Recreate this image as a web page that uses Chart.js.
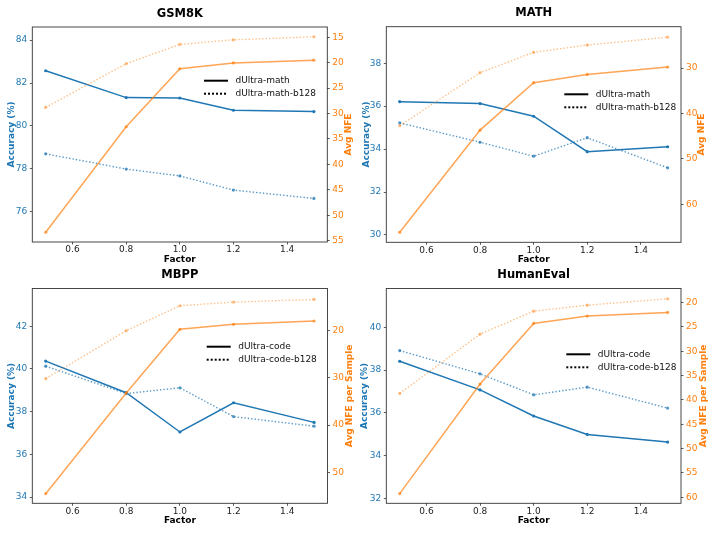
<!DOCTYPE html>
<html>
<head>
<meta charset="utf-8">
<script src="https://cdn.jsdelivr.net/npm/chart.js@4.4.1/dist/chart.umd.min.js"></script>
<style>
  body { margin: 0; background: #fff; }
  #wrap { position: relative; width: 714px; height: 535px; }
  #wrap canvas { position: absolute; left: 0; top: 0; }
</style>
</head>
<body>
<div id="wrap">
  <canvas id="gsm" width="714" height="535"></canvas>
  <canvas id="math" width="714" height="535"></canvas>
  <canvas id="mbpp" width="714" height="535"></canvas>
  <canvas id="humaneval" width="714" height="535"></canvas>
</div>
<script>
// x values and ticks (shared)
const factors = [0.5, 0.8, 1.0, 1.2, 1.5];
const factorTicks = [0.6, 0.8, 1.0, 1.2, 1.4];

const mathNames = ["dUltra-math", "dUltra-math-b128"];
const codeNames = ["dUltra-code", "dUltra-code-b128"];

// GSM8K
const gsmAcc = [82.57, 81.32, 81.30, 80.73, 80.67];
const gsmAccB128 = [78.70, 77.99, 77.67, 77.01, 76.62];
const gsmNfe = [53.35, 32.6, 21.2, 20.05, 19.5];
const gsmNfeB128 = [28.8, 20.2, 16.4, 15.5, 14.9];
const gsmAccTicks = [76, 78, 80, 82, 84];
const gsmNfeTicks = [15, 20, 25, 30, 35, 40, 45, 50, 55];

// MATH
const mathAcc = [36.21, 36.12, 35.53, 33.88, 34.11];
const mathAccB128 = [35.22, 34.32, 33.67, 34.53, 33.13];
const mathNfe = [66.16, 43.67, 33.23, 31.4, 29.78];
const mathNfeB128 = [42.7, 31.03, 26.55, 24.94, 23.2];
const mathAccTicks = [30, 32, 34, 36, 38];
const mathNfeTicks = [30, 40, 50, 60];

// MBPP
const mbppAcc = [40.37, 38.89, 37.05, 38.42, 37.50];
const mbppAccB128 = [40.13, 38.85, 39.12, 37.77, 37.32];
const mbppNfe = [54.49, 33.23, 19.79, 18.74, 18.03];
const mbppNfeB128 = [30.21, 20.07, 14.81, 14.04, 13.48];
const mbppAccTicks = [34, 36, 38, 40, 42];
const mbppNfeTicks = [20, 30, 40, 50];

// HumanEval
const heAcc = [38.41, 37.07, 35.85, 34.99, 34.63];
const heAccB128 = [38.91, 37.82, 36.84, 37.20, 36.22];
const heNfe = [59.25, 36.75, 24.31, 22.80, 22.05];
const heNfeB128 = [38.67, 26.50, 21.78, 20.55, 19.25];
const heAccTicks = [32, 34, 36, 38, 40];
const heNfeTicks = [20, 25, 30, 35, 40, 45, 50, 55, 60];

const BLUE = "#1f77b4";
const BLUE_LIGHT = "rgba(31,119,180,0.75)";
const ORANGE = "#ff7f0e";
const ORANGE_SOLID = "rgba(255,127,14,0.7)";
const ORANGE_LIGHT = "rgba(255,127,14,0.5)";

Chart.defaults.font.family = "'DejaVu Sans', sans-serif";

const panels = [
  {
    id: "gsm", title: "GSM8K", names: mathNames,
    acc: gsmAcc, accB: gsmAccB128, nfe: gsmNfe, nfeB: gsmNfeB128,
    accTicks: gsmAccTicks, nfeTicks: gsmNfeTicks,
    accRange: [74.59, 84.61], nfeRange: [12.98, 55.27], nfeLabel: "Avg NFE",
    area: { l: 32.3, t: 27, r: 327.3, b: 242 },
    accTitleX: 11.7, nfeTitleX: 348.3, legend: { x: 204, y: 80.7 },
  },
  {
    id: "math", title: "MATH", names: mathNames,
    acc: mathAcc, accB: mathAccB128, nfe: mathNfe, nfeB: mathNfeB128,
    accTicks: mathAccTicks, nfeTicks: mathNfeTicks,
    accRange: [29.66, 39.7], nfeRange: [20.9, 68.36], nfeLabel: "Avg NFE",
    area: { l: 386.3, t: 26.7, r: 681, b: 242.3 },
    accTitleX: 367, nfeTitleX: 702, legend: { x: 564.3, y: 94.3 },
  },
  {
    id: "mbpp", title: "MBPP", names: codeNames,
    acc: mbppAcc, accB: mbppAccB128, nfe: mbppNfe, nfeB: mbppNfeB128,
    accTicks: mbppAccTicks, nfeTicks: mbppNfeTicks,
    accRange: [33.71, 43.77], nfeRange: [11.17, 56.52], nfeLabel: "Avg NFE per Sample",
    area: { l: 32.3, t: 288.5, r: 327.5, b: 503.3 },
    accTitleX: 11.7, nfeTitleX: 349.3, legend: { x: 206.7, y: 346.7 },
  },
  {
    id: "humaneval", title: "HumanEval", names: codeNames,
    acc: heAcc, accB: heAccB128, nfe: heNfe, nfeB: heNfeB128,
    accTicks: heAccTicks, nfeTicks: heNfeTicks,
    accRange: [31.77, 41.81], nfeRange: [17.13, 61.23], nfeLabel: "Avg NFE per Sample",
    area: { l: 386.3, t: 288.5, r: 681, b: 503.3 },
    accTitleX: 365, nfeTitleX: 703.7, legend: { x: 566.3, y: 354.3 },
  },
];

const RIGHT_W = 30;
const X_H = 23;

// frame, right-axis title and in-plot legend
const decor = {
  id: "decor",
  afterDraw(chart, args, opts) {
    const { ctx, chartArea: a } = chart;
    const p = opts.panel;
    ctx.save();
    ctx.strokeStyle = "#333";
    ctx.lineWidth = 0.9;
    ctx.strokeRect(a.left, a.top, a.right - a.left, a.bottom - a.top);

    ctx.translate(p.nfeTitleX, (a.top + a.bottom) / 2);
    ctx.rotate(-Math.PI / 2);
    ctx.font = "bold 9px 'DejaVu Sans'";
    ctx.fillStyle = ORANGE;
    ctx.textAlign = "center";
    ctx.textBaseline = "middle";
    ctx.fillText(p.nfeLabel, 0, 0);
    ctx.restore();

    ctx.save();
    ctx.font = "9px 'DejaVu Sans'";
    ctx.textBaseline = "middle";
    p.names.forEach((name, i) => {
      const y = p.legend.y + i * 13;
      ctx.strokeStyle = "#000";
      ctx.lineWidth = 2;
      ctx.setLineDash(i === 0 ? [] : [2, 2]);
      ctx.beginPath();
      ctx.moveTo(p.legend.x, y);
      ctx.lineTo(p.legend.x + 24, y);
      ctx.stroke();
      ctx.fillStyle = "#111";
      ctx.fillText(name, p.legend.x + 31.5, y);
    });
    ctx.restore();
  },
};

function series(label, xs, ys, axis, color, dotted, order) {
  return {
    label,
    data: xs.map((x, i) => ({ x, y: ys[i] })),
    yAxisID: axis,
    borderColor: color,
    backgroundColor: color,
    borderWidth: dotted ? 1.4 : 1.5,
    borderDash: dotted ? [1.4, 2] : [],
    pointRadius: 1.6,
    pointBorderWidth: 0,
    pointBackgroundColor: color,
    tension: 0,
    order,
  };
}

panels.forEach((p) => {
  const leftW = p.area.l - p.accTitleX + 5.4;
  new Chart(document.getElementById(p.id), {
    type: "line",
    data: {
      datasets: [
        series(p.names[0], factors, p.acc, "y", BLUE, false, 1),
        series(p.names[1], factors, p.accB, "y", BLUE_LIGHT, true, 1),
        series(p.names[0], factors, p.nfe, "y1", ORANGE_SOLID, false, 0),
        series(p.names[1], factors, p.nfeB, "y1", ORANGE_LIGHT, true, 0),
      ],
    },
    options: {
      responsive: false,
      animation: false,
      layout: {
        padding: {
          left: p.area.l - leftW,
          right: 714 - p.area.r - RIGHT_W,
          top: p.area.t - 20.2,
          bottom: 535 - p.area.b - X_H,
        },
      },
      plugins: {
        legend: { display: false },
        tooltip: { enabled: false },
        title: {
          display: true,
          text: p.title,
          fullSize: false,
          color: "#000",
          font: { size: 11.5, weight: "bold" },
          padding: { top: 0, bottom: 6.4 },
        },
        decor: { panel: p },
      },
      scales: {
        x: {
          type: "linear",
          min: 0.45,
          max: 1.55,
          afterBuildTicks: (s) => { s.ticks = factorTicks.map((v) => ({ value: v })); },
          afterFit: (s) => { s.height = X_H; },
          ticks: {
            autoSkip: false,
            maxRotation: 0,
            padding: 0,
            color: "#222",
            font: { size: 9 },
            callback: (v) => Number(v).toFixed(1),
          },
          grid: { drawOnChartArea: false, tickLength: 2.5, color: "#333", lineWidth: 0.8 },
          border: { display: false },
          title: { display: true, text: "Factor", color: "#000", font: { size: 9, weight: "bold" }, padding: 0 },
        },
        y: {
          position: "left",
          min: p.accRange[0],
          max: p.accRange[1],
          afterBuildTicks: (s) => { s.ticks = p.accTicks.map((v) => ({ value: v })); },
          afterFit: (s) => { s.width = leftW; },
          ticks: { padding: 2.5, color: BLUE, font: { size: 9 } },
          grid: { drawOnChartArea: false, tickLength: 2.5, color: "#333", lineWidth: 0.8 },
          border: { display: false },
          title: { display: true, text: "Accuracy (%)", color: BLUE, font: { size: 9, weight: "bold" }, padding: 0 },
        },
        y1: {
          position: "right",
          reverse: true,
          min: p.nfeRange[0],
          max: p.nfeRange[1],
          afterBuildTicks: (s) => { s.ticks = p.nfeTicks.map((v) => ({ value: v })); },
          afterFit: (s) => { s.width = RIGHT_W; },
          ticks: { padding: 2.5, color: ORANGE, font: { size: 9 } },
          grid: { drawOnChartArea: false, tickLength: 2.5, color: "#333", lineWidth: 0.8 },
          border: { display: false },
          title: { display: false },
        },
      },
    },
    plugins: [decor],
  });
});
</script>
</body>
</html>
